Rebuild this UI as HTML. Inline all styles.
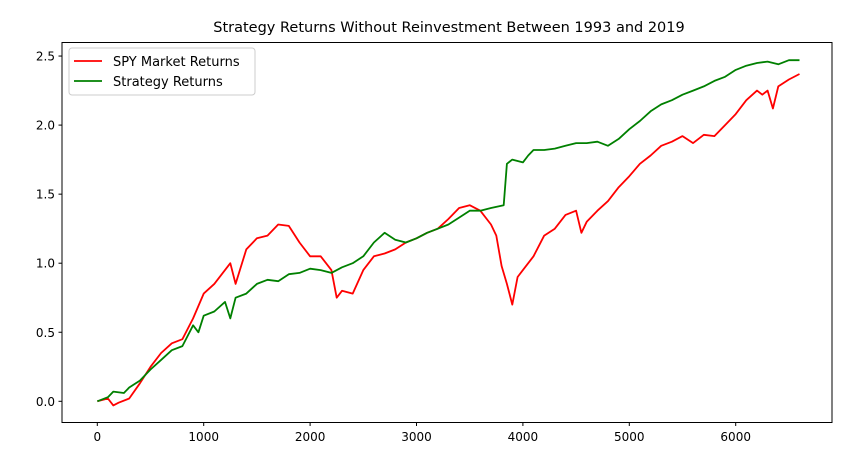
<!DOCTYPE html>
<html><head><meta charset="utf-8">
<style>
html,body{margin:0;padding:0;background:#fff;}
svg{display:block;font-family:"DejaVu Sans","Liberation Sans",sans-serif;}
</style></head>
<body>
<svg id="chart" width="859" height="455" viewBox="0 0 859 455" xmlns="http://www.w3.org/2000/svg">
<rect width="859" height="455" fill="#fff"/>
<text x="449" y="32" font-size="14.5" text-anchor="middle" fill="#000">Strategy Returns Without Reinvestment Between 1993 and 2019</text>
<g id="grid"></g>
<g id="series"></g>
<rect x="62" y="42.5" width="770" height="380" fill="none" stroke="#000" stroke-width="1"/>
<g>
<rect x="69" y="48" width="186" height="47" rx="3" fill="#fff" fill-opacity="0.8" stroke="#ccc"/>
<line x1="74" y1="61" x2="102" y2="61" stroke="#ff0000" stroke-width="1.8"/>
<text x="113" y="66" font-size="13">SPY Market Returns</text>
<line x1="74" y1="81" x2="102" y2="81" stroke="#008000" stroke-width="1.8"/>
<text x="113" y="86" font-size="13">Strategy Returns</text>
</g>
</svg>
<script>
const xTicks=[0,1000,2000,3000,4000,5000,6000];
const yTicks=[0.0,0.5,1.0,1.5,2.0,2.5];
const yTickLabels=["0.0","0.5","1.0","1.5","2.0","2.5"];
const spyX=[0,100,150,200,300,400,500,600,700,800,900,1000,1100,1200,1250,1300,1400,1500,1600,1700,1800,1900,2000,2100,2200,2250,2300,2400,2500,2600,2700,2800,2900,3000,3100,3200,3300,3400,3500,3600,3700,3750,3800,3850,3900,3950,4000,4100,4200,4300,4400,4500,4550,4600,4700,4800,4900,5000,5100,5200,5300,5400,5500,5600,5700,5800,5900,6000,6100,6200,6250,6300,6350,6400,6500,6600];
const spyY=[0,0.02,-0.03,-0.01,0.02,0.13,0.25,0.35,0.42,0.45,0.6,0.78,0.85,0.95,1.0,0.85,1.1,1.18,1.2,1.28,1.27,1.15,1.05,1.05,0.95,0.75,0.8,0.78,0.95,1.05,1.07,1.1,1.15,1.18,1.22,1.25,1.32,1.4,1.42,1.38,1.28,1.2,0.98,0.85,0.7,0.9,0.95,1.05,1.2,1.25,1.35,1.38,1.22,1.3,1.38,1.45,1.55,1.63,1.72,1.78,1.85,1.88,1.92,1.87,1.93,1.92,2.0,2.08,2.18,2.25,2.22,2.25,2.12,2.28,2.33,2.37];
const stratX=[0,100,150,250,300,400,500,600,700,800,900,950,1000,1100,1200,1250,1300,1400,1500,1600,1700,1800,1900,2000,2100,2200,2300,2400,2500,2600,2700,2800,2900,3000,3100,3200,3300,3400,3500,3600,3700,3820,3850,3900,4000,4050,4100,4200,4300,4400,4500,4600,4700,4800,4900,5000,5100,5200,5300,5400,5500,5600,5700,5800,5900,6000,6100,6200,6300,6400,6500,6600];
const stratY=[0,0.03,0.07,0.06,0.1,0.15,0.23,0.3,0.37,0.4,0.55,0.5,0.62,0.65,0.72,0.6,0.75,0.78,0.85,0.88,0.87,0.92,0.93,0.96,0.95,0.93,0.97,1.0,1.05,1.15,1.22,1.17,1.15,1.18,1.22,1.25,1.28,1.33,1.38,1.38,1.4,1.42,1.72,1.75,1.73,1.78,1.82,1.82,1.83,1.85,1.87,1.87,1.88,1.85,1.9,1.97,2.03,2.1,2.15,2.18,2.22,2.25,2.28,2.32,2.35,2.4,2.43,2.45,2.46,2.44,2.47,2.47];

const NS="http://www.w3.org/2000/svg";
function sx(v){return 97.3+v*0.1064;}
function sy(v){return 401.3-v*138.1;}
const grid=document.getElementById('grid');
function mk(tag,attrs,parent){const e=document.createElementNS(NS,tag);for(const k in attrs)e.setAttribute(k,attrs[k]);parent.appendChild(e);return e;}
xTicks.forEach(t=>{
  const l=mk('line',{x1:sx(t),x2:sx(t),y1:422.5,y2:426,stroke:'#000'},grid);
  
  
  const tx=mk('text',{x:sx(t),y:441,'font-size':12,'text-anchor':'middle'},grid);
  
  
  tx.textContent=String(t);
});
yTicks.forEach((t,i)=>{
  const l=mk('line',{x1:58.5,x2:62,y1:sy(t),y2:sy(t),stroke:'#000'},grid);
  
  
  const tx=mk('text',{x:55,y:sy(t)+4.5,'font-size':12,'text-anchor':'end'},grid);
  
  
  tx.textContent=yTickLabels[i];
});
const ser=document.getElementById('series');
function path(xs,ys){return xs.map((x,i)=>(i?'L':'M')+sx(x).toFixed(1)+','+sy(ys[i]).toFixed(1)).join('');}
const p1=mk('path',{d:path(spyX,spyY),fill:'none',stroke:'#ff0000','stroke-width':1.8,'stroke-linejoin':'round'},ser);


const p2=mk('path',{d:path(stratX,stratY),fill:'none',stroke:'#008000','stroke-width':1.8,'stroke-linejoin':'round'},ser);


</script>
</body></html>
